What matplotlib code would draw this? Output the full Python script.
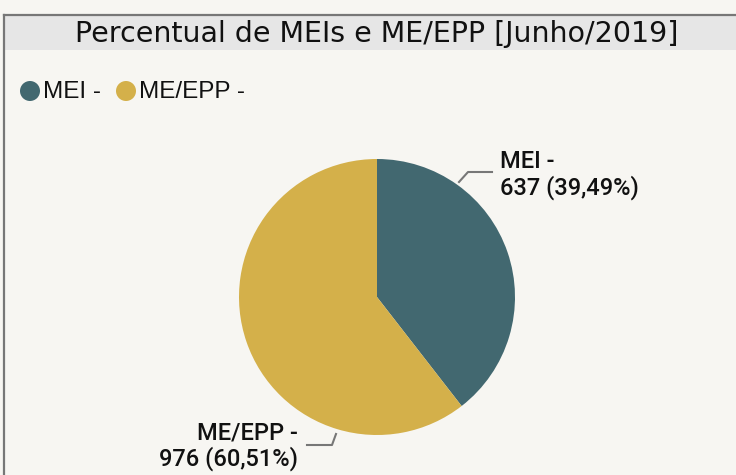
import matplotlib.pyplot as plt
from matplotlib.patches import Rectangle, Circle
from matplotlib.lines import Line2D

# dados
categorias = ['MEI', 'ME/EPP']
quantidades = [637, 976]
percentuais = ['39,49%', '60,51%']
cores = ['#426870', '#d4b04a']

W, H = 736, 475
fig = plt.figure(figsize=(W / 100, H / 100), dpi=100)
fig.patch.set_facecolor('#f7f6f2')


def px(x, y):
    # pixels (origem no topo) -> fração da figura
    return x / W, 1 - y / H


# painel com borda e faixa do título
x0, y0 = px(4, 50)
fig.patches.append(Rectangle((x0, y0), 1, px(0, 15)[1] - y0, transform=fig.transFigure,
                             facecolor='#e6e6e6', edgecolor='none', zorder=0))
fig.add_artist(Line2D([px(4, 0)[0], 1], [px(0, 15)[1]] * 2, color='#777777', lw=1.6))
fig.add_artist(Line2D([px(4, 0)[0]] * 2, [0, px(0, 15)[1]], color='#777777', lw=1.6))
fig.text(*px(377, 34), 'Percentual de MEIs e ME/EPP [Junho/2019]', ha='center', va='center',
         fontsize=20.5, family='DejaVu Sans', color='#111111')

# legenda
pos_legenda = [30, 126]
for nome, cor, lx in zip(categorias, cores, pos_legenda):
    fig.patches.append(Circle((lx, H - 91), 10, transform=None, facecolor=cor, edgecolor='none'))
    fig.text(*px(lx + 13, 92), f'{nome} -', ha='left', va='center', fontsize=17.5,
             family='Liberation Sans', color='#111111')

# pizza
ax = fig.add_axes([(377 - 138) / W, (H - 435) / H, 276 / W, 276 / H])
ax.pie(quantidades, colors=cores, startangle=90, counterclock=False,
       wedgeprops=dict(linewidth=0))
ax.set_aspect('equal')
ax.set_xlim(-1, 1)
ax.set_ylim(-1, 1)
ax.axis('off')

# rótulos com linhas de chamada
estilo = dict(fontsize=17, family='Roboto', weight='medium', color='#111111', va='center')
fig.add_artist(Line2D([px(459, 0)[0], px(468, 0)[0], px(492, 0)[0]],
                      [px(0, 182)[1], px(0, 172)[1], px(0, 172)[1]], color='#777777', lw=1.5))
fig.text(*px(500, 161), f'{categorias[0]} -', ha='left', **estilo)
fig.text(*px(500, 188), f'{quantidades[0]} ({percentuais[0]})', ha='left', **estilo)
fig.add_artist(Line2D([px(336, 0)[0], px(332, 0)[0], px(307, 0)[0]],
                      [px(0, 434)[1], px(0, 445)[1], px(0, 445)[1]], color='#777777', lw=1.5))
fig.text(*px(298, 433), f'{categorias[1]} -', ha='right', **estilo)
fig.text(*px(298, 459), f'{quantidades[1]} ({percentuais[1]})', ha='right', **estilo)

fig.savefig('out.png', dpi=100, facecolor=fig.get_facecolor())
